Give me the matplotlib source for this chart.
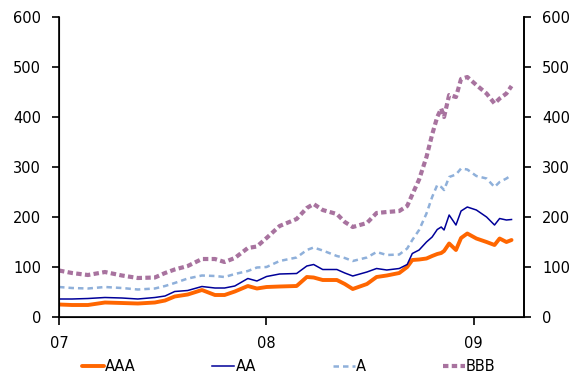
import matplotlib
matplotlib.use("Agg")
import matplotlib.pyplot as plt
import pandas as pd

plt.rcParams['font.family'] = ['DejaVu Sans']

dates = [
    "2007-01-01", "2007-01-24", "2007-02-21", "2007-03-23", "2007-04-22",
    "2007-05-20", "2007-06-19", "2007-07-07", "2007-07-24", "2007-08-16",
    "2007-09-10", "2007-10-03", "2007-10-20", "2007-11-07", "2007-11-30",
    "2007-12-16", "2008-01-02", "2008-01-25", "2008-02-24", "2008-03-13",
    "2008-03-25", "2008-04-10", "2008-05-05", "2008-05-19", "2008-06-02",
    "2008-06-27", "2008-07-14", "2008-08-01", "2008-08-23", "2008-09-06",
    "2008-09-15", "2008-09-27", "2008-10-10", "2008-10-20", "2008-10-29",
    "2008-11-05", "2008-11-10", "2008-11-19", "2008-12-01", "2008-12-10",
    "2008-12-21", "2009-01-06", "2009-01-24", "2009-02-07", "2009-02-16",
    "2009-02-28", "2009-03-09",
]

aaa = [25, 24, 24, 29, 28, 27, 29, 33, 41, 45,
       54, 44, 44, 51, 62, 57, 60, 61, 62, 80,
       79, 74, 74, 66, 56, 66, 80, 83, 88, 100,
       114, 115, 117, 122, 126, 128, 132, 147, 134, 158,
       167, 157, 150, 144, 157, 150, 154]

aa = [36, 36, 37, 39, 38, 36, 39, 42, 51, 53,
      61, 58, 58, 62, 77, 72, 81, 86, 87, 102,
      105, 95, 95, 88, 82, 90, 97, 94, 97, 105,
      127, 134, 150, 160, 175, 180, 174, 204, 184, 212,
      220, 214, 200, 184, 197, 194, 195]

a = [60, 58, 57, 60, 58, 55, 57, 62, 68, 77,
     83, 82, 80, 86, 92, 99, 100, 112, 119, 134,
     139, 133, 122, 118, 112, 119, 130, 124, 125, 137,
     154, 174, 207, 240, 264, 260, 254, 280, 285, 297,
     295, 282, 277, 260, 270, 277, 284]

bbb = [93, 88, 84, 90, 83, 78, 79, 88, 95, 102,
       116, 116, 110, 118, 138, 141, 158, 182, 196, 218,
       226, 214, 206, 190, 180, 188, 208, 210, 212, 222,
       245, 275, 320, 365, 400, 417, 400, 444, 440, 476,
       480, 464, 447, 427, 437, 447, 462]

series_names = ["AAA", "AA", "A", "BBB"]
year_ticks = ["2007-01-01", "2008-01-01", "2009-01-01"]
year_labels = ["07", "08", "09"]
y_ticks = [0, 100, 200, 300, 400, 500, 600]

x = pd.to_datetime(dates)

fig = plt.figure(figsize=(5.74, 3.74), dpi=100)
ax = fig.add_axes([0.1028, 0.1524, 0.8101, 0.8021])

ax.plot(x, aaa, color="#FF6600", lw=2.8, solid_capstyle="round", label=series_names[0], zorder=3)
ax.plot(x, aa, color="#000099", lw=1.1, label=series_names[1], zorder=4)
ax.plot(x, a, color="#8FB0DA", lw=1.8, dashes=(2.2, 1.6), label=series_names[2], zorder=2)
ax.plot(x, bbb, color="#A8739F", lw=3.0, dashes=(1.3, 0.8), label=series_names[3], zorder=1)

ax.set_xlim(pd.Timestamp("2007-01-01"), pd.Timestamp("2009-03-31"))
ax.set_ylim(0, 600)
ax.set_yticks(y_ticks)
ax.set_xticks(pd.to_datetime(year_ticks))
ax.set_xticklabels(year_labels)

ax.spines["top"].set_visible(False)
for s in ["left", "right", "bottom"]:
    ax.spines[s].set_linewidth(1.2)
    ax.spines[s].set_color("black")

ax.tick_params(axis="y", direction="out", length=5, width=1.2, labelsize=10.5, pad=8)
ax.tick_params(axis="x", direction="out", length=6, width=1.2, labelsize=10.5, pad=7.5)

ax2 = ax.twinx()
ax2.set_ylim(0, 600)
ax2.set_yticks(y_ticks)
ax2.spines["top"].set_visible(False)
ax2.spines["right"].set_linewidth(1.2)
ax2.tick_params(axis="y", direction="out", length=5, width=1.2, labelsize=10.5, pad=8)

handles, labels = ax.get_legend_handles_labels()
fig.legend(handles, labels, loc="lower center", bbox_to_anchor=(0.503, -0.035), ncol=4,
           frameon=False, fontsize=10.5, handlelength=1.5, handletextpad=0.1,
           columnspacing=5.25)

fig.savefig("out.png", dpi=100)
